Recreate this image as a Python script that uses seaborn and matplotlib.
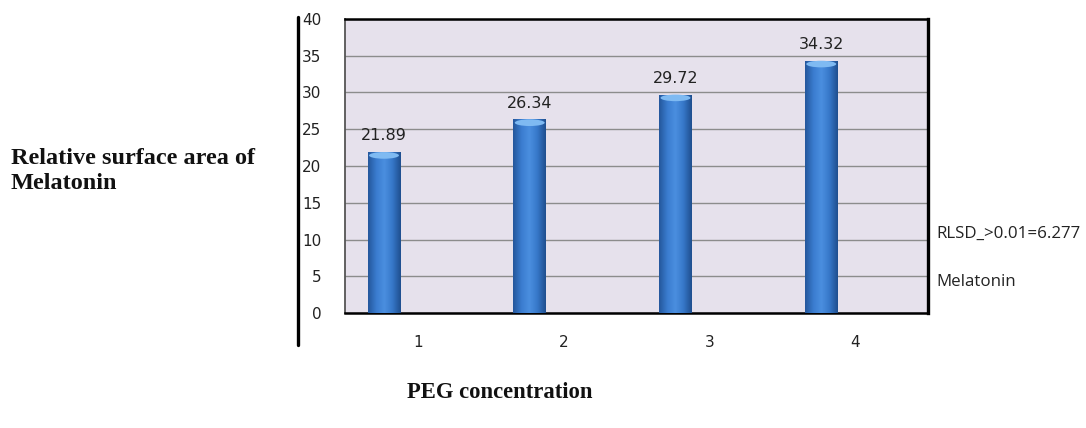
import numpy as np
import pandas as pd
import matplotlib
matplotlib.use("Agg")
import matplotlib.pyplot as plt
from matplotlib.lines import Line2D
from matplotlib.patches import Ellipse
from matplotlib.colors import LinearSegmentedColormap
import seaborn as sns

# PEG concentration levels and measured relative surface area of melatonin
concentrations = ["1", "2", "3", "4"]
melatonin = [21.89, 26.34, 29.72, 34.32]
series_names = ["Melatonin", "RLSD_>0.01=6.277"]
y_ticks = [0, 5, 10, 15, 20, 25, 30, 35, 40]

df = pd.DataFrame({
    "conc": concentrations * 2,
    "value": melatonin + [np.nan] * len(concentrations),
    "series": [series_names[0]] * 4 + [series_names[1]] * 4,
})

sns.set_theme(style="white")
plt.rcParams["font.family"] = ["DejaVu Sans"]

fig = plt.figure(figsize=(10.86, 4.28), dpi=100)
ax = fig.add_axes([345 / 1086, 1 - 313 / 428, 583 / 1086, 294 / 428])
ax.set_facecolor("#e6e1ec")

sns.barplot(data=df, x="conc", y="value", hue="series", hue_order=series_names,
            order=concentrations, dodge=True, width=0.93, gap=0.52,
            palette=["#3d7bd0", "#c0504d"], legend=False, ax=ax, zorder=3,
            linewidth=0, edgecolor="none")

ax.set_xlim(-0.5, len(concentrations) - 0.5)
ax.set_ylim(0, 40)
ax.set_yticks(y_ticks)
ax.set_yticklabels([str(t) for t in y_ticks])
ax.yaxis.grid(True, color="#8c8c8c", linewidth=1.0, zorder=1)
ax.set_axisbelow(True)
ax.tick_params(axis="y", length=0, pad=17, labelsize=11, labelcolor="#222222")
ax.tick_params(axis="x", length=0, pad=16, labelsize=11, labelcolor="#222222")
ax.set_xlabel("")
ax.set_ylabel("")

# frame
ax.spines["top"].set_color("black")
ax.spines["top"].set_linewidth(1.8)
ax.spines["right"].set_color("black")
ax.spines["right"].set_linewidth(2.4)
ax.spines["bottom"].set_color("black")
ax.spines["bottom"].set_linewidth(1.8)
ax.spines["left"].set_color("#555555")
ax.spines["left"].set_linewidth(1.3)

# cylinder-like shading on the bars
grad = LinearSegmentedColormap.from_list(
    "cyl", ["#24579c", "#3a7ccf", "#4b8fe0", "#3677c8", "#1f4f8f"])
shade = np.linspace(0, 1, 64).reshape(1, -1)
for patch in list(ax.patches):
    h = patch.get_height()
    if not np.isfinite(h) or h <= 0:
        continue
    x0, w = patch.get_x(), patch.get_width()
    im = ax.imshow(shade, cmap=grad, aspect="auto", extent=[x0, x0 + w, 0, h],
                   zorder=4, interpolation="bicubic")
    im.set_clip_path(patch)
    cap = Ellipse((x0 + w / 2, h - 0.45), w * 0.92, 0.9, facecolor="#7fbaf2",
                  edgecolor="none", zorder=5)
    ax.add_patch(cap)
    ax.text(x0 + w / 2, h + 1.2, f"{h:.2f}", ha="center", va="bottom",
            fontsize=11.5, color="#222222", zorder=6)

ax.set_xlim(-0.5, len(concentrations) - 0.5)
ax.set_ylim(0, 40)

# detached vertical rule beside the value scale
fig.add_artist(Line2D([298 / 1086, 298 / 1086], [1 - 17 / 428, 1 - 345 / 428],
                      color="black", linewidth=2.4))

# series names at right
fig.text(936 / 1086, 1 - 234 / 428, series_names[1], fontsize=12.2,
         family="Open Sans", color="#222222", va="center", ha="left")
fig.text(936 / 1086, 1 - 282 / 428, series_names[0], fontsize=12.2,
         family="Open Sans", color="#222222", va="center", ha="left")

# axis titles
fig.text(11 / 1086, 1 - 171 / 428, "Relative surface area of\nMelatonin",
         family="Liberation Serif", fontweight="bold", fontsize=17.5,
         ha="left", va="center", linespacing=1.3, color="#111111")
fig.text(500 / 1086, 1 - 392 / 428, "PEG concentration",
         family="Liberation Serif", fontweight="bold", fontsize=16.3,
         ha="center", va="center", color="#111111")

fig.savefig("out.png", dpi=100)
